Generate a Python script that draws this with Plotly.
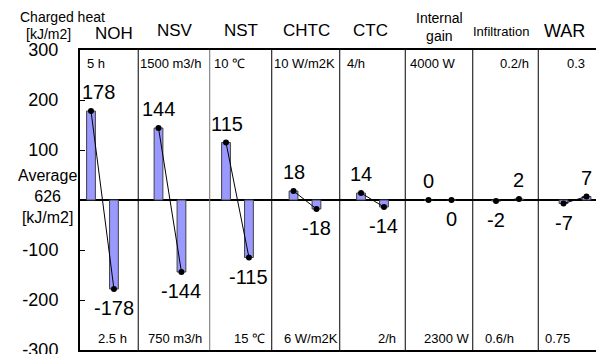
import plotly.graph_objects as go

# ---- data ----
categories = ["NOH", "NSV", "NST", "CHTC", "CTC", "Internal<br>gain", "Infiltration", "WAR"]
upper_settings = ["5 h", "1500 m3/h", "10 ℃", "10 W/m2K", "4/h", "4000 W", "0.2/h", "0.3"]
lower_settings = ["2.5 h", "750 m3/h", "15 ℃", "6 W/m2K", "2/h", "2300 W", "0.6/h", "0.75"]
upper_values = [178, 144, 115, 18, 14, 0, -2, -7]
lower_values = [-178, -144, -115, -18, -14, 0, 2, 7]
y_tick_values = [300, 200, 100, -100, -200, -300]
y_tick_labels = ["300", "200", "100", "-100", "-200", "-300"]
average_label = "Average<br>626<br>[kJ/m2]"
axis_title = "Charged heat"
axis_unit = "[kJ/m2]"

# ---- style / layout ----
W, H = 596, 354
ML, MR, MT, MB = 80, 0, 50, 4
PW, PH = W - ML - MR, H - MT - MB
FONT = "Liberation Sans, Arial, sans-serif"
BAR_FILL = "#9999ff"
BAR_EDGE = "#404040"
OFF = 0.17
BAR_W = 0.13
XMIN, XMAX = -0.333, 7.311
PX_PER_UNIT = PW / (XMAX - XMIN)

header_sizes = [17, 17, 17, 17, 17, 14, 13, 18]
header_dx = [11.5, 5, 4, 2, -1.5, -0.5, -6.5, -11]
header_py = [33.5, 30, 30, 30, 30, 27, 31, 31]
upper_dx = [-6, 1, -8, 0, -16.5, -7.5, 6.5, 1]
lower_dx = [10, 5, 12, 6, 15, 7, -8, -18]
upper_val_dx = [7.5, 0, 1, 0, 0, 0, 0, 0]
divider_dx = [2, 6, 0.5, 1, -1, -1, -3]
divider_col = ["black", "#707070", "black", "black", "black", "black", "black"]


def py(ypx):
    return (H - MB - ypx) / PH


def px(xpx):
    return (xpx - ML) / PW


n = len(categories)
xa = [i - OFF for i in range(n)]
xb = [i + OFF for i in range(n)]

fig = go.Figure()
bar_style = dict(color=BAR_FILL, line=dict(color=BAR_EDGE, width=1))
fig.add_trace(go.Bar(x=xa, y=upper_values, width=BAR_W, marker=bar_style, showlegend=False))
fig.add_trace(go.Bar(x=xb, y=lower_values, width=BAR_W, marker=bar_style, showlegend=False))

lx, ly = [], []
for i in range(n):
    lx += [xa[i], xb[i], None]
    ly += [upper_values[i], lower_values[i], None]
fig.add_trace(go.Scatter(x=lx, y=ly, mode="lines+markers",
                         line=dict(color="black", width=1),
                         marker=dict(color="black", size=6),
                         showlegend=False, cliponaxis=False))

ann = []
# value labels
for xs, vals, first, dxs in ((xa, upper_values, True, upper_val_dx),
                             (xb, lower_values, False, [0] * n)):
    for x, v, dx in zip(xs, vals, dxs):
        above = v > 0 or (v == 0 and first)
        ann.append(dict(x=x, y=v, xref="x", yref="y", text=str(v), showarrow=False,
                        font=dict(family=FONT, size=20, color="black"),
                        xanchor="center", yanchor="bottom" if above else "top",
                        xshift=dx, yshift=6 if above else -6))
# header category names
for i, c in enumerate(categories):
    ann.append(dict(x=i, y=py(header_py[i]), xref="x", yref="paper", text=c,
                    showarrow=False, xshift=header_dx[i],
                    font=dict(family=FONT, size=header_sizes[i], color="black"),
                    xanchor="center", yanchor="middle"))
# setting labels
for i in range(n):
    ann.append(dict(x=i, y=py(63.5), xref="x", yref="paper", text=upper_settings[i],
                    showarrow=False, xshift=upper_dx[i],
                    font=dict(family=FONT, size=13, color="black"),
                    xanchor="center", yanchor="middle"))
    ann.append(dict(x=i, y=py(338), xref="x", yref="paper", text=lower_settings[i],
                    showarrow=False, xshift=lower_dx[i],
                    font=dict(family=FONT, size=13, color="black"),
                    xanchor="center", yanchor="middle"))
# axis titles
ann.append(dict(x=px(62), y=py(17), xref="paper", yref="paper", text=axis_title,
                showarrow=False, font=dict(family=FONT, size=14, color="black"),
                xanchor="center", yanchor="middle"))
ann.append(dict(x=px(48), y=py(34), xref="paper", yref="paper", text=axis_unit,
                showarrow=False, font=dict(family=FONT, size=14, color="black"),
                xanchor="center", yanchor="middle"))
ann.append(dict(x=px(47), y=py(196), xref="paper", yref="paper", text=average_label,
                showarrow=False, font=dict(family=FONT, size=16, color="black"),
                xanchor="center", yanchor="middle"))

shapes = []
for i in range(n - 1):
    xd = i + 0.5 + divider_dx[i] / PX_PER_UNIT
    shapes.append(dict(type="line", xref="x", yref="y", x0=xd, x1=xd,
                       y0=-300, y1=300, line=dict(color=divider_col[i], width=1)))

fig.update_layout(
    width=W, height=H,
    margin=dict(l=ML, r=MR, t=MT, b=MB, pad=0, autoexpand=False),
    plot_bgcolor="white", paper_bgcolor="white",
    barmode="overlay",
    annotations=ann, shapes=shapes,
    xaxis=dict(range=[XMIN, XMAX], showgrid=False, zeroline=False,
               showticklabels=False, ticks="", showline=True, mirror=True,
               linecolor="black", linewidth=2, automargin=False),
    yaxis=dict(range=[-300, 300], showgrid=False, zeroline=True,
               zerolinecolor="black", zerolinewidth=1.5,
               tickvals=y_tick_values, ticktext=y_tick_labels,
               ticks="inside", ticklen=5, tickwidth=1, tickcolor="black",
               ticklabelstandoff=16, ticklabeloverflow="allow", automargin=False,
               tickfont=dict(family=FONT, size=18, color="black"),
               showline=True, linecolor="black", linewidth=2),
)

fig.write_html("out.html")
